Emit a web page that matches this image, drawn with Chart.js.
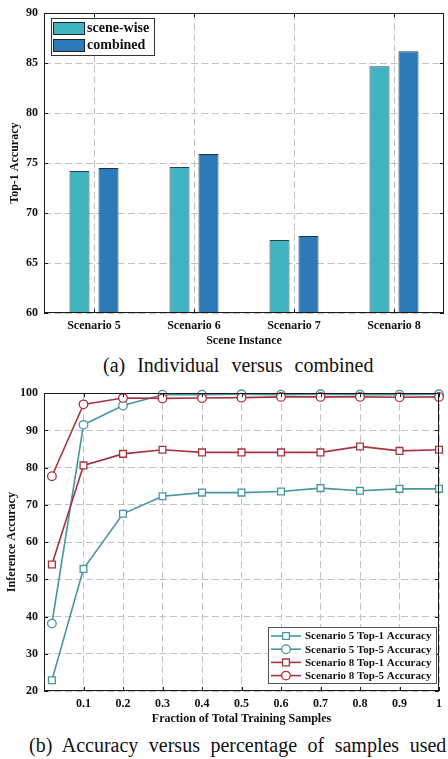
<!DOCTYPE html>
<html>
<head>
<meta charset="utf-8">
<script src="https://cdn.jsdelivr.net/npm/chart.js@4"></script>
<style>
  body { margin: 0; background: #fff; width: 448px; height: 759px; overflow: hidden; position: relative; }
  .panel { position: absolute; left: 0; width: 448px; height: 350px; }
  .caption { position: absolute; font-family: 'Liberation Serif', 'Times New Roman', serif; font-size: 20px; line-height: 20px; white-space: nowrap; color: #111; }
</style>
</head>
<body>
<div class="panel" style="top:0"><canvas id="barChart"></canvas></div>
<div class="caption" style="top:355px; left:103px; word-spacing:7px">(a) Individual versus combined</div>
<div class="panel" style="top:380px"><canvas id="lineChart"></canvas></div>
<div class="caption" style="top:735px; left:29px; word-spacing:5.5px">(b) Accuracy versus percentage of samples used</div>
<script>
// (a) top-1 accuracy per scenario
const scenarios = ['Scenario 5', 'Scenario 6', 'Scenario 7', 'Scenario 8'];
const sceneWise = [74.2, 74.6, 67.3, 84.7];
const combined = [74.5, 75.9, 67.7, 86.2];
const barTicks = [60, 65, 70, 75, 80, 85, 90];

// (b) accuracy vs fraction of training samples
const fractions = [0.02, 0.1, 0.2, 0.3, 0.4, 0.5, 0.6, 0.7, 0.8, 0.9, 1];
const s5Top1 = [22.9, 52.8, 67.6, 72.3, 73.3, 73.3, 73.6, 74.5, 73.8, 74.3, 74.3];
const s5Top5 = [38.1, 91.5, 96.7, 99.6, 99.6, 99.7, 99.6, 99.7, 99.6, 99.6, 99.7];
const s8Top1 = [54.0, 80.6, 83.7, 84.8, 84.1, 84.1, 84.1, 84.1, 85.7, 84.5, 84.8];
const s8Top5 = [77.7, 97.0, 98.7, 98.6, 98.7, 98.8, 99.0, 99.0, 99.0, 98.9, 99.0];
const fracTicks = [0, 0.1, 0.2, 0.3, 0.4, 0.5, 0.6, 0.7, 0.8, 0.9, 1];
const accTicks = [20, 30, 40, 50, 60, 70, 80, 90, 100];

const serif = "'Liberation Serif', 'Times New Roman', serif";
Chart.defaults.font.family = serif;
Chart.defaults.color = '#111';

const TEAL = '#4696a0';
const RED = '#a63440';
const gridStyle = { color: '#c2c2c2', lineWidth: 1, drawTicks: false, borderDash: [7, 3.5] };
const borderStyle = { display: false, dash: [7, 3.5] };
const tickFont = { size: 12, weight: 'bold' };

const fixedTicks = list => scale => { scale.ticks = list.map(v => ({ value: v })); };

// black box round the plot area with short inward ticks
const boxFrame = {
  id: 'boxFrame',
  afterDraw(chart) {
    const { ctx, chartArea: a, scales } = chart;
    ctx.save();
    ctx.strokeStyle = '#1a1a1a';
    ctx.lineWidth = 1;
    ctx.beginPath();
    scales.y.ticks.forEach((t, i) => {
      const y = Math.round(scales.y.getPixelForTick(i)) + 0.5;
      ctx.moveTo(a.left, y); ctx.lineTo(a.left + 4, y);
      ctx.moveTo(a.right, y); ctx.lineTo(a.right - 4, y);
    });
    scales.x.ticks.forEach((t, i) => {
      const x = Math.round(scales.x.getPixelForTick(i)) + 0.5;
      ctx.moveTo(x, a.bottom); ctx.lineTo(x, a.bottom - 4);
      ctx.moveTo(x, a.top); ctx.lineTo(x, a.top + 4);
    });
    ctx.stroke();
    ctx.strokeRect(Math.round(a.left) + 0.5, Math.round(a.top) + 0.5,
      Math.round(a.width) - 1, Math.round(a.height) - 1);
    ctx.restore();
  }
};

// boxed legend with colour swatches, upper left
const barLegend = {
  id: 'barLegend',
  afterDraw(chart) {
    const { ctx } = chart;
    ctx.save();
    ctx.fillStyle = '#fff';
    ctx.fillRect(51, 18, 103, 37);
    ctx.strokeStyle = '#333';
    ctx.lineWidth = 1;
    ctx.strokeRect(51.5, 18.5, 103, 37);
    ctx.font = 'bold 14px ' + serif;
    ctx.textBaseline = 'middle';
    chart.data.datasets.forEach((ds, i) => {
      const y = 22 + i * 17;
      ctx.fillStyle = ds.backgroundColor;
      ctx.fillRect(53, y, 31, 12);
      ctx.strokeStyle = '#222';
      ctx.strokeRect(53.5, y + 0.5, 31, 12);
      ctx.fillStyle = '#111';
      ctx.fillText(ds.label, 87, y + 6.5);
    });
    ctx.restore();
  }
};

function marker(ctx, style, x, y) {
  ctx.beginPath();
  if (style === 'rect') {
    ctx.rect(x - 3.4, y - 3.4, 6.8, 6.8);
  } else {
    ctx.arc(x, y, 4.3, 0, Math.PI * 2);
  }
  ctx.fill();
  ctx.stroke();
}

// boxed legend with line + marker samples, lower right
const lineLegend = {
  id: 'lineLegend',
  afterDraw(chart) {
    const { ctx } = chart;
    const top = 247;
    ctx.save();
    ctx.fillStyle = '#fff';
    ctx.fillRect(268, top, 168, 56);
    ctx.strokeStyle = '#555';
    ctx.lineWidth = 1;
    ctx.strokeRect(268.5, top + 0.5, 168, 56);
    ctx.font = 'bold 11px ' + serif;
    ctx.textBaseline = 'middle';
    chart.data.datasets.forEach((ds, i) => {
      const y = top + 9 + i * 13.2;
      ctx.strokeStyle = ds.borderColor;
      ctx.lineWidth = 1.6;
      ctx.beginPath();
      ctx.moveTo(271, y); ctx.lineTo(301, y);
      ctx.stroke();
      ctx.fillStyle = '#fff';
      ctx.lineWidth = 1.3;
      marker(ctx, ds.pointStyle, 286, y);
      ctx.fillStyle = '#111';
      ctx.fillText(ds.label, 305, y + 0.5);
    });
    ctx.restore();
  }
};

new Chart(document.getElementById('barChart'), {
  type: 'bar',
  data: {
    labels: scenarios,
    datasets: [
      { label: 'scene-wise', data: sceneWise, backgroundColor: '#40b5c1', borderColor: '#2d4248', borderWidth: 1 },
      { label: 'combined', data: combined, backgroundColor: '#2c7bb8', borderColor: '#1f3446', borderWidth: 1 }
    ]
  },
  options: {
    responsive: true,
    maintainAspectRatio: false,
    animation: false,
    layout: { padding: { top: 10, right: 4, left: 0, bottom: 0 } },
    categoryPercentage: 0.58,
    barPercentage: 0.69,
    plugins: { legend: { display: false }, tooltip: { enabled: false } },
    scales: {
      x: {
        grid: { ...gridStyle, offset: false },
        border: borderStyle,
        ticks: { font: tickFont, padding: 6, color: '#111' },
        title: { display: true, text: 'Scene Instance', font: { size: 12, weight: 'bold' }, padding: { top: 0, bottom: 2 } },
        afterFit: s => { s.height = 37; }
      },
      y: {
        min: 60,
        max: 90,
        grid: gridStyle,
        border: borderStyle,
        afterBuildTicks: fixedTicks(barTicks),
        ticks: { font: tickFont, padding: 6, color: '#111' },
        title: { display: true, text: 'Top-1 Accuracy', font: { size: 12, weight: 'bold' }, padding: { top: 8, bottom: 0 } },
        afterFit: s => { s.width = 44; }
      }
    }
  },
  plugins: [boxFrame, barLegend]
});

const series = (label, values, color, style, order) => ({
  label,
  data: fractions.map((x, i) => ({ x, y: values[i] })),
  borderColor: color,
  borderWidth: 1.6,
  pointStyle: style,
  pointRadius: style === 'rect' ? 4.8 : 4.3,
  pointBackgroundColor: '#fff',
  pointBorderColor: color,
  pointBorderWidth: 1.3,
  clip: false,
  order
});

new Chart(document.getElementById('lineChart'), {
  type: 'line',
  data: {
    datasets: [
      series('Scenario 5 Top-1 Accuracy', s5Top1, TEAL, 'rect', 4),
      series('Scenario 5 Top-5 Accuracy', s5Top5, TEAL, 'circle', 3),
      series('Scenario 8 Top-1 Accuracy', s8Top1, RED, 'rect', 2),
      series('Scenario 8 Top-5 Accuracy', s8Top5, RED, 'circle', 1)
    ]
  },
  options: {
    responsive: true,
    maintainAspectRatio: false,
    animation: false,
    layout: { padding: { top: 11, right: 4, left: 0, bottom: 0 } },
    plugins: { legend: { display: false }, tooltip: { enabled: false } },
    scales: {
      x: {
        type: 'linear',
        min: 0,
        max: 1,
        grid: gridStyle,
        border: borderStyle,
        afterBuildTicks: fixedTicks(fracTicks),
        ticks: { font: tickFont, padding: 6, color: '#111', callback: v => v === 0 ? '' : String(+v.toFixed(1)) },
        title: { display: true, text: 'Fraction of Total Training Samples', font: { size: 12, weight: 'bold' }, padding: { top: 0, bottom: 4 } },
        afterFit: s => { s.height = 39; }
      },
      y: {
        min: 20,
        max: 100,
        grid: gridStyle,
        border: borderStyle,
        afterBuildTicks: fixedTicks(accTicks),
        ticks: { font: tickFont, padding: 6, color: '#111' },
        title: { display: true, text: 'Inference Accuracy', font: { size: 12, weight: 'bold' }, padding: { top: 5, bottom: 0 } },
        afterFit: s => { s.width = 44; }
      }
    }
  },
  plugins: [boxFrame, lineLegend]
});
</script>
</body>
</html>
